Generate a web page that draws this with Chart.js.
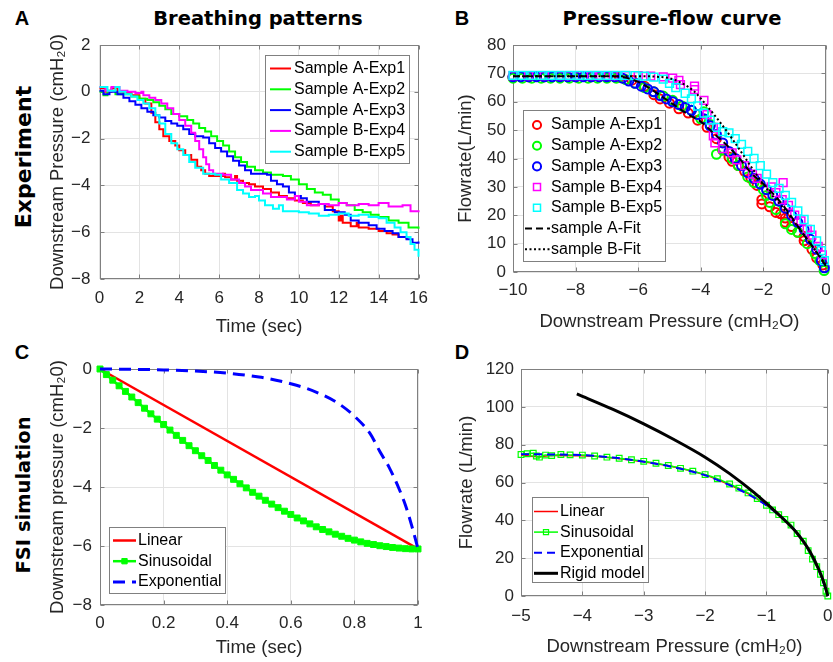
<!DOCTYPE html>
<html>
<head>
<meta charset="utf-8">
<title>Breathing patterns / pressure-flow</title>
<script src="https://cdn.jsdelivr.net/npm/chart.js@4.4.0/dist/chart.umd.min.js"></script>
<style>
  html, body { margin: 0; padding: 0; background: #fff; }
  body { position: relative; width: 833px; height: 662px; overflow: hidden; font-family: "Liberation Sans", Arial, sans-serif; }
  canvas { position: absolute; }
  .lbl { position: absolute; white-space: nowrap; color: #000; transform: translate(-50%, -50%); }
  .letter { font: bold 20px "Liberation Sans", Arial, sans-serif; }
  .ptitle { font: bold 19.5px "DejaVu Sans", sans-serif; }
  .row { font-weight: bold; font-family: "DejaVu Sans", sans-serif; transform: translate(-50%, -50%) rotate(-90deg); }
</style>
</head>
<body>
<div class="lbl letter" style="left:22px;top:18px">A</div>
<div class="lbl letter" style="left:462px;top:18px">B</div>
<div class="lbl letter" style="left:22px;top:352px">C</div>
<div class="lbl letter" style="left:462px;top:352px">D</div>
<div class="lbl ptitle" style="left:258px;top:18px">Breathing patterns</div>
<div class="lbl ptitle" style="left:672px;top:18px">Pressure-flow curve</div>
<div class="lbl row" style="left:23px;top:157px;font-size:22px">Experiment</div>
<div class="lbl row" style="left:23px;top:495px;font-size:19.5px">FSI simulation</div>

<canvas id="chartA"></canvas>
<canvas id="chartB"></canvas>
<canvas id="chartC"></canvas>
<canvas id="chartD"></canvas>

<script>
// ---- Panel A : breathing patterns (time in sec, downstream pressure) ----
const timeA1 = [0, 0.3, 0.6, 0.9, 1.2, 1.6, 2.0, 2.3, 2.6, 2.8, 3.0, 3.2, 3.5, 3.8, 4.0, 4.3, 4.6, 4.9, 5.1, 5.3, 5.5, 6.2, 6.3, 6.6, 6.8, 6.9, 7.2, 7.5, 7.8, 8.2, 8.6, 9.0, 9.4, 9.8, 10.2, 10.6, 11.0, 11.3, 11.7, 12.0, 12.1, 12.2, 12.6, 12.9, 13.0, 13.5, 14.0, 14.4, 14.7, 15.0, 15.4];
const presA1 = [0.15, 0, 0.15, 0, -0.05, -0.15, -0.3, -0.5, -0.9, -1.3, -1.6, -1.9, -2.1, -2.3, -2.5, -2.7, -2.9, -3.2, -3.35, -3.5, -3.6, -3.5, -3.65, -3.75, -3.6, -3.8, -3.9, -3.95, -4.05, -4.15, -4.3, -4.45, -4.55, -4.65, -4.75, -4.85, -4.8, -4.9, -5.1, -5.5, -5.3, -5.6, -5.75, -5.6, -5.8, -5.85, -5.95, -6.05, -6.1, -6.2, -6.3];
const timeA2 = [0, 0.2, 0.4, 0.8, 1.2, 1.6, 2.0, 2.4, 2.7, 3.0, 3.3, 3.6, 4.0, 4.4, 4.7, 5.0, 5.3, 5.6, 5.9, 6.2, 6.5, 6.8, 7.1, 7.4, 7.8, 8.2, 8.6, 9.2, 9.6, 10.0, 10.4, 10.8, 11.2, 11.6, 12.0, 12.4, 12.8, 13.2, 13.6, 14.0, 14.5, 15.0, 15.5, 16];
const presA2 = [0, -0.15, 0.05, -0.1, -0.1, -0.2, -0.3, -0.35, -0.45, -0.6, -0.75, -0.95, -1.05, -1.2, -1.35, -1.55, -1.7, -1.9, -2.1, -2.3, -2.55, -2.8, -3.0, -3.2, -3.35, -3.45, -3.55, -3.6, -3.75, -3.95, -4.15, -4.3, -4.4, -4.6, -4.75, -4.85, -5.05, -5.15, -5.25, -5.35, -5.5, -5.6, -5.8, -5.85];
const timeA3 = [0, 0.2, 0.5, 0.9, 1.2, 1.5, 1.8, 2.1, 2.4, 2.7, 3.0, 3.3, 3.6, 3.9, 4.2, 4.5, 4.8, 5.2, 5.5, 5.8, 6.1, 6.4, 6.7, 7.0, 7.3, 7.6, 8.4, 8.6, 8.9, 9.2, 9.5, 9.8, 10.1, 10.4, 11.0, 11.3, 11.8, 12.3, 12.6, 13.0, 13.5, 13.9, 14.3, 14.7, 15.0, 15.4, 15.7, 16];
const presA3 = [0.05, -0.1, 0, -0.1, -0.25, -0.4, -0.55, -0.7, -0.85, -1.0, -1.1, -1.25, -1.35, -1.45, -1.6, -1.8, -1.9, -1.95, -2.2, -2.4, -2.55, -2.75, -2.95, -3.15, -3.35, -3.5, -3.55, -3.8, -3.95, -4.05, -4.3, -4.45, -4.55, -4.7, -4.8, -5.05, -5.15, -5.25, -5.5, -5.6, -5.7, -5.85, -5.95, -6.05, -6.2, -6.3, -6.45, -6.4];
const timeA4 = [0, 0.3, 0.6, 1.0, 1.4, 1.8, 2.1, 2.2, 2.5, 2.8, 3.1, 3.4, 3.7, 4.0, 4.3, 4.6, 4.8, 5.0, 5.2, 5.35, 5.5, 5.7, 6.2, 6.6, 7.0, 7.3, 7.6, 8.2, 8.6, 9.4, 9.8, 10.0, 10.4, 11.0, 11.5, 12.0, 12.4, 13.0, 13.5, 14.0, 14.5, 15.2, 15.6, 16];
const presA4 = [0.2, 0.05, 0.2, 0.05, 0, -0.05, 0, -0.15, -0.25, -0.35, -0.5, -0.7, -0.95, -1.2, -1.45, -1.75, -2.1, -2.45, -2.8, -3.1, -3.35, -3.5, -3.55, -3.75, -3.9, -4.05, -4.2, -4.35, -4.5, -4.6, -4.45, -4.7, -4.85, -4.8, -4.85, -4.75, -4.85, -4.8, -4.85, -4.75, -4.9, -4.85, -5.1, -5.15];
const timeA5 = [0, 0.4, 0.8, 1.0, 1.3, 1.6, 1.9, 2.2, 2.5, 2.8, 3.0, 3.3, 3.6, 3.9, 4.2, 4.5, 4.8, 5.2, 5.8, 6.1, 6.5, 6.9, 7.2, 7.5, 7.8, 8.0, 8.3, 8.7, 9.0, 9.2, 10.0, 10.5, 11.0, 11.5, 12.0, 12.5, 13.0, 13.5, 14.0, 14.4, 14.8, 15.1, 15.4, 15.6, 15.8, 16];
const presA5 = [0.2, 0.05, 0.2, 0, -0.1, -0.2, -0.35, -0.5, -0.7, -1.0, -1.35, -1.8, -2.2, -2.45, -2.7, -3.0, -3.25, -3.5, -3.55, -3.75, -3.9, -4.2, -4.35, -4.5, -4.45, -4.65, -4.85, -5.0, -4.85, -5.1, -5.15, -5.2, -5.3, -5.25, -5.2, -5.3, -5.25, -5.35, -5.4, -5.6, -5.8, -6.0, -6.2, -6.5, -6.75, -7.05];

// ---- Panel B : pressure-flow scatter + fits ----
const presB1 = [-10, -9.5, -9, -8.5, -8, -7.5, -7, -6.6, -6.2, -5.8, -5.5, -5.3, -5.0, -4.7, -4.4, -4.1, -3.8, -3.5, -3.3, -3.1, -3.0, -2.8, -2.6, -2.4, -2.2, -2.05, -2.05, -1.8, -1.6, -1.45, -1.3, -1.3, -1.1, -0.9, -0.7, -0.7, -0.45, -0.3, -0.1];
const flowB1 = [68.8, 68.8, 68.8, 68.8, 68.8, 68.8, 68.8, 68.6, 67.6, 65.5, 62.5, 61, 59.5, 57.5, 56, 53.5, 51, 47, 43, 40.5, 39, 37.5, 35.5, 33, 30.5, 25.5, 24, 23, 21, 20.5, 19, 17.5, 16, 14, 12.5, 11, 8, 5, 2.5];
const presB2 = [-10, -9.7, -9.4, -9.1, -8.8, -8.5, -8.2, -7.9, -7.6, -7.3, -7.0, -6.7, -6.4, -6.1, -5.8, -5.5, -5.2, -4.9, -4.6, -4.3, -4.0, -3.9, -3.7, -3.5, -3.3, -3.0, -2.8, -2.5, -2.3, -2.0, -1.9, -1.8, -1.6, -1.3, -1.1, -0.9, -0.6, -0.35, -0.2, -0.06];
const flowB2 = [68.3, 68.3, 68.3, 68.3, 68.3, 68.3, 68.3, 68.3, 68.3, 68.3, 68.3, 68.3, 67.8, 66.5, 65, 63.5, 62, 60.5, 58.5, 57, 54, 56.5, 52, 41.5, 43, 40, 37.5, 33.5, 31.5, 29, 27, 24.5, 22, 17, 15, 14, 10, 6.5, 4, 0.5];
const presB3 = [-10, -9.75, -9.5, -9.25, -9, -8.75, -8.5, -8.25, -8, -7.75, -7.5, -7.25, -7, -6.75, -6.5, -6.3, -6.1, -5.9, -5.7, -5.5, -5.3, -5.1, -4.9, -4.7, -4.5, -4.3, -4.1, -3.9, -3.7, -3.5, -3.3, -3.1, -2.9, -2.7, -2.5, -2.3, -2.1, -1.9, -1.7, -1.5, -1.3, -1.1, -0.9, -0.7, -0.5, -0.3, -0.15, -0.05];
const flowB3 = [68.8, 68.8, 68.8, 68.8, 68.8, 68.8, 68.8, 68.8, 68.8, 68.8, 68.8, 68.8, 68.8, 68.8, 68.3, 67.3, 66.5, 65.5, 64.5, 63.5, 62.2, 61, 60, 59, 58, 57, 55.5, 54, 51.5, 48.5, 45.5, 42.5, 40, 37.5, 35, 33, 31, 29, 27, 25, 22.5, 20, 17.5, 15, 11.5, 8, 4, 1.5];
const presB4 = [-10, -9.5, -9, -8.5, -8.2, -7.9, -7.5, -7.2, -6.8, -6.4, -6.0, -5.6, -5.2, -4.9, -4.7, -4.65, -4.2, -4.2, -3.9, -3.8, -3.6, -3.6, -3.55, -3.3, -3.0, -2.85, -2.6, -2.35, -2.2, -1.37, -1.75, -1.6, -1.4, -1.2, -1.0, -0.8, -0.6, -0.45, -0.25, -0.12];
const flowB4 = [69.2, 69.2, 69.2, 69.2, 69.2, 69.2, 69.2, 69.2, 69.2, 69.2, 69.2, 69.0, 68.8, 68.3, 67.5, 66, 65.5, 64.3, 60.5, 55.5, 51, 48, 45.5, 43.5, 42, 39.5, 37.5, 34.5, 33, 31.5, 30, 28, 25.5, 23.5, 20, 18, 15, 13, 9, 6];
const presB5 = [-10, -9.7, -9.4, -9.1, -8.8, -8.5, -8.2, -7.9, -7.6, -7.3, -7.0, -6.7, -6.4, -6.1, -5.8, -5.5, -5.2, -5.0, -4.8, -4.5, -4.3, -4.1, -3.9, -3.7, -3.5, -3.3, -3.1, -2.9, -2.7, -2.5, -2.3, -2.1, -1.9, -1.7, -1.5, -1.3, -1.1, -0.9, -0.7, -0.5, -0.3, -0.15, -0.05];
const flowB5 = [69.3, 69.3, 69.3, 69.3, 69.3, 69.3, 69.3, 69.3, 69.3, 69.3, 69.3, 69.3, 69.3, 69.2, 69, 68.7, 68, 66.5, 65, 63, 61, 58.5, 56, 53.5, 51, 49.5, 49, 47, 45, 42.5, 40, 37.5, 34.5, 31.5, 29.5, 27, 24.5, 21.5, 18.5, 15, 11, 7.5, 4];
const presFitA = [-10, -6.8, -6.4, -6.0, -5.6, -5.2, -4.8, -4.4, -4.0, -3.6, -3.2, -2.8, -2.4, -2.0, -1.6, -1.2, -0.8, -0.4, 0];
const flowFitA = [69, 69, 68.5, 67, 64.5, 61.5, 58.5, 55.5, 53, 49, 45, 40.5, 35, 31, 26.5, 21, 14.5, 8.5, 2];
const presFitB = [-10, -5.8, -5.4, -5.0, -4.6, -4.2, -3.8, -3.4, -3.0, -2.6, -2.2, -1.8, -1.4, -1.0, -0.6, -0.2, 0];
const flowFitB = [69, 69, 68.8, 68.3, 66.5, 63.5, 58.5, 53, 47, 40.5, 34, 28, 23, 17.5, 11.5, 5.5, 2.5];

// ---- Panel C : FSI simulation inputs ----
const timeLin = [0, 1];
const presLin = [0, -6.1];
const timeSin = [0, 0.02, 0.04, 0.06, 0.08, 0.1, 0.12, 0.14, 0.16, 0.18, 0.2, 0.22, 0.24, 0.26, 0.28, 0.3, 0.32, 0.34, 0.36, 0.38, 0.4, 0.42, 0.44, 0.46, 0.48, 0.5, 0.52, 0.54, 0.56, 0.58, 0.6, 0.62, 0.64, 0.66, 0.68, 0.7, 0.72, 0.74, 0.76, 0.78, 0.8, 0.82, 0.84, 0.86, 0.88, 0.9, 0.92, 0.94, 0.96, 0.98, 1];
const presSin = [0, -0.19, -0.38, -0.57, -0.76, -0.95, -1.14, -1.33, -1.52, -1.7, -1.88, -2.07, -2.25, -2.42, -2.6, -2.77, -2.94, -3.1, -3.27, -3.43, -3.59, -3.74, -3.89, -4.03, -4.18, -4.31, -4.45, -4.58, -4.7, -4.82, -4.93, -5.05, -5.15, -5.25, -5.35, -5.44, -5.52, -5.6, -5.67, -5.74, -5.8, -5.86, -5.91, -5.95, -5.99, -6.02, -6.05, -6.07, -6.09, -6.1, -6.1];
const timeExp = [0, 0.1, 0.2, 0.3, 0.4, 0.5, 0.55, 0.6, 0.65, 0.7, 0.75, 0.8, 0.85, 0.88, 0.91, 0.94, 0.96, 0.98, 1];
const presExp = [0, -0.01, -0.03, -0.07, -0.14, -0.27, -0.37, -0.5, -0.66, -0.88, -1.17, -1.6, -2.2, -2.8, -3.35, -4.05, -4.6, -5.3, -6.1];

// ---- Panel D : simulated pressure-flow ----
const presDLin = [-5.0, -4.7, -4.5, -4.0, -3.5, -3.0, -2.5, -2.0, -1.6, -1.2, -0.9, -0.6, -0.4, -0.25, -0.12, -0.04, 0];
const flowDLin = [74.5, 73.6, 74.3, 74.2, 73.0, 71.0, 68.2, 64.0, 58.8, 52.3, 45.6, 37.2, 29.0, 20.3, 11.5, 4.2, 0];
const presDSin = [-5.0, -4.9, -4.8, -4.75, -4.7, -4.6, -4.5, -4.35, -4.2, -4.0, -3.8, -3.6, -3.4, -3.2, -3.0, -2.8, -2.6, -2.4, -2.2, -2.0, -1.8, -1.6, -1.45, -1.3, -1.15, -1.0, -0.9, -0.8, -0.7, -0.6, -0.5, -0.4, -0.32, -0.25, -0.18, -0.12, -0.07, -0.03, 0];
const flowDSin = [74.8, 75.2, 75.5, 74.0, 73.4, 74.5, 74.2, 74.8, 74.6, 74.5, 74.0, 73.4, 72.8, 72.0, 71.2, 70.2, 69.0, 67.5, 66.0, 64.2, 62.0, 59.2, 57.0, 54.5, 51.5, 48.0, 45.5, 43.0, 40.5, 37.5, 33.0, 29.0, 24.0, 19.5, 15.5, 11.5, 7.0, 2.5, 0];
const presDExp = [-5.0, -4.5, -4.0, -3.5, -3.0, -2.5, -2.0, -1.6, -1.2, -0.9, -0.6, -0.4, -0.25, -0.12, -0.04, 0];
const flowDExp = [75.0, 74.8, 74.5, 73.2, 71.0, 68.0, 63.8, 58.6, 52.0, 45.5, 37.0, 29.0, 20.5, 11.5, 4.0, 0];
const presDRig = [-4.09, -3.5, -3.0, -2.5, -2.0, -1.6, -1.2, -0.8, -0.5, -0.3, -0.14, -0.05, 0];
const flowDRig = [106.8, 98.6, 91.0, 82.6, 73.4, 64.7, 54.6, 43.0, 33.2, 24.0, 13.5, 5.8, 0];

const INK = '#262626', BOX = '#808080', GRID = '#e3e3e3';
const RED = '#ff0000', GREEN = '#00ff00', BLUE = '#0000ff', MAG = '#ff00ff', CYAN = '#00ffff';
const FONT = '"Liberation Sans", Arial, sans-serif';

Chart.defaults.font.family = FONT;
Chart.defaults.color = INK;

function fmt(v) { return String(Math.round(v * 100) / 100).replace('-', '\u2212'); }
function xy(xs, ys) { return xs.map((x, i) => ({ x: x, y: ys[i] })); }

function marker(ctx, d, x, y) {
  const r = d.pointRadius * 0.9;
  ctx.lineWidth = d.pointBorderWidth || 1;
  ctx.strokeStyle = d.pointBorderColor || d.borderColor;
  ctx.fillStyle = d.pointBackgroundColor || 'rgba(0,0,0,0)';
  ctx.beginPath();
  if (d.pointStyle === 'rect') {
    const s = r * Math.SQRT1_2;
    ctx.rect(x - s, y - s, 2 * s, 2 * s);
  } else {
    ctx.arc(x, y, r, 0, Math.PI * 2);
  }
  ctx.fill();
  ctx.stroke();
}

// box round the plot plus little inner ticks, matlab style
const axisBox = {
  id: 'axisBox',
  beforeDatasetsDraw(chart) {
    const { ctx, chartArea: a, scales } = chart;
    const L = Math.round(a.left) + 0.5, R = Math.round(a.right) - 0.5;
    const T = Math.round(a.top) + 0.5, B = Math.round(a.bottom) - 0.5;
    ctx.save();
    ctx.strokeStyle = BOX;
    ctx.lineWidth = 1;
    ctx.beginPath();
    scales.x.ticks.forEach(t => {
      const p = Math.round(scales.x.getPixelForValue(t.value)) + 0.5;
      ctx.moveTo(p, B); ctx.lineTo(p, B - 4);
      ctx.moveTo(p, T); ctx.lineTo(p, T + 4);
    });
    scales.y.ticks.forEach(t => {
      const p = Math.round(scales.y.getPixelForValue(t.value)) + 0.5;
      ctx.moveTo(L, p); ctx.lineTo(L + 4, p);
      ctx.moveTo(R, p); ctx.lineTo(R - 4, p);
    });
    ctx.stroke();
    ctx.strokeRect(L, T, R - L, B - T);
    ctx.restore();
  }
};

// legend drawn inside the axes with a framed white box (page coordinates in options)
const boxLegend = {
  id: 'boxLegend',
  afterDatasetsDraw(chart, args, o) {
    if (!o || !o.box) return;
    const ctx = chart.ctx;
    const ox = chart.canvas.offsetLeft, oy = chart.canvas.offsetTop;
    const [x0, y0, x1, y1] = o.box;
    ctx.save();
    ctx.fillStyle = '#fff';
    ctx.fillRect(x0 - ox, y0 - oy, x1 - x0, y1 - y0);
    ctx.strokeStyle = BOX;
    ctx.lineWidth = 1;
    ctx.strokeRect(x0 - ox + 0.5, y0 - oy + 0.5, x1 - x0, y1 - y0);
    ctx.font = '16px ' + FONT;
    ctx.textBaseline = 'middle';
    chart.data.datasets.forEach((d, i) => {
      const cy = o.row0 + i * o.rowH - oy;
      const l0 = o.line[0] - ox, l1 = o.line[1] - ox;
      if (d.showLine !== false) {
        ctx.strokeStyle = d.borderColor;
        ctx.lineWidth = d.borderWidth;
        ctx.setLineDash(d.borderDash || []);
        ctx.beginPath();
        ctx.moveTo(l0, cy);
        ctx.lineTo(l1, cy);
        ctx.stroke();
        ctx.setLineDash([]);
      }
      if (d.pointRadius > 0) marker(ctx, d, (o.mark || (o.line[0] + o.line[1]) / 2) - ox, cy);
      ctx.fillStyle = '#000';
      ctx.fillText(d.label, o.text - ox, cy);
    });
    ctx.restore();
  }
};

function makePanel(id, g, datasets, sx, sy, legend) {
  const cv = document.getElementById(id);
  cv.width = g.w;
  cv.height = g.h;
  cv.style.left = g.left + 'px';
  cv.style.top = g.top + 'px';
  const [ax0, ay0, ax1, ay1] = g.area;
  const yW = ax0 - g.left, xH = g.top + g.h - ay1;
  // later series on top, like matlab
  datasets.forEach((d, i) => { d.order = datasets.length - i; d.clip = false; });
  return new Chart(cv, {
    type: 'line',
    data: { datasets: datasets },
    options: {
      responsive: false,
      animation: false,
      events: [],
      layout: { padding: { left: 0, top: ay0 - g.top, right: g.left + g.w - ax1, bottom: 0 } },
      plugins: { legend: { display: false }, tooltip: { enabled: false }, boxLegend: legend },
      scales: {
        x: {
          type: 'linear', min: sx.min, max: sx.max,
          ticks: { stepSize: sx.step, callback: fmt, padding: g.xTickPad, font: { size: 17 }, color: INK, maxRotation: 0, autoSkip: false },
          grid: { color: GRID, drawTicks: false },
          border: { display: false },
          title: { display: true, text: sx.title, font: { size: 18.5 }, color: INK, padding: { top: 0, bottom: g.xTitlePad } },
          afterFit: s => { s.height = xH; s.paddingLeft = 0; s.paddingRight = 0; }
        },
        y: {
          type: 'linear', min: sy.min, max: sy.max,
          ticks: { stepSize: sy.step, callback: fmt, padding: g.yTickPad, font: { size: 17 }, color: INK, autoSkip: false },
          grid: { color: GRID, drawTicks: false },
          border: { display: false },
          title: { display: true, text: sy.title, font: { size: 18.5 }, color: INK, padding: { top: g.yTitlePad, bottom: 0 } },
          afterFit: s => { s.width = yW; s.paddingTop = 0; s.paddingBottom = 0; }
        }
      }
    },
    plugins: [axisBox, boxLegend]
  });
}

function stepLine(label, color, xs, ys) {
  return { label, data: xy(xs, ys), borderColor: color, borderWidth: 2, stepped: true, pointRadius: 0 };
}
function scatter(label, color, xs, ys, style) {
  return {
    label, data: xy(xs, ys), showLine: false, borderColor: color,
    pointStyle: style, pointRadius: style === 'rect' ? 5.5 : 4.5,
    pointBorderWidth: style === 'rect' ? 1.5 : 2, pointBorderColor: color,
    pointBackgroundColor: 'rgba(0,0,0,0)'
  };
}
function smooth(d) { d.cubicInterpolationMode = 'monotone'; return d; }

makePanel('chartA',
  { left: 40, top: 25, w: 400, h: 320, area: [99.5, 45, 418.5, 279], xTickPad: 9, yTickPad: 9, xTitlePad: 7, yTitlePad: 7 },
  [
    stepLine('Sample A-Exp1', RED, timeA1, presA1),
    stepLine('Sample A-Exp2', GREEN, timeA2, presA2),
    stepLine('Sample A-Exp3', BLUE, timeA3, presA3),
    stepLine('Sample B-Exp4', MAG, timeA4, presA4),
    stepLine('Sample B-Exp5', CYAN, timeA5, presA5)
  ],
  { min: 0, max: 16, step: 2, title: 'Time (sec)' },
  { min: -8, max: 2, step: 2, title: 'Downstream Pressure (cmH\u20820)' },
  { box: [265, 55, 409, 163], row0: 68.5, rowH: 20.8, line: [270, 291], text: 294 });

makePanel('chartB',
  { left: 440, top: 25, w: 393, h: 320, area: [513, 45, 828, 272], xTickPad: 8, yTickPad: 7, xTitlePad: 12, yTitlePad: 15 },
  [
    scatter('Sample A-Exp1', RED, presB1, flowB1, 'circle'),
    scatter('Sample A-Exp2', GREEN, presB2, flowB2, 'circle'),
    scatter('Sample A-Exp3', BLUE, presB3, flowB3, 'circle'),
    scatter('Sample B-Exp4', MAG, presB4, flowB4, 'rect'),
    scatter('Sample B-Exp5', CYAN, presB5, flowB5, 'rect'),
    smooth({ label: 'sample A-Fit', data: xy(presFitA, flowFitA), borderColor: '#000', borderWidth: 2, borderDash: [7, 4], pointRadius: 0 }),
    smooth({ label: 'sample B-Fit', data: xy(presFitB, flowFitB), borderColor: '#000', borderWidth: 2, borderDash: [2, 2.5], pointRadius: 0 })
  ],
  { min: -10, max: 0, step: 2, title: 'Downstream Pressure (cmH\u2082O)' },
  { min: 0, max: 80, step: 10, title: 'Flowrate(L/min)' },
  { box: [523, 110, 665, 261], row0: 125, rowH: 20.7, line: [525, 550], mark: 537, text: 551 });

makePanel('chartC',
  { left: 40, top: 350, w: 400, h: 325, area: [100, 369, 418, 605], xTickPad: 8, yTickPad: 8, xTitlePad: 16, yTitlePad: 7 },
  [
    { label: 'Linear', data: xy(timeLin, presLin), borderColor: RED, borderWidth: 2.5, pointRadius: 0 },
    { label: 'Sinusoidal', data: xy(timeSin, presSin), borderColor: GREEN, borderWidth: 2.5, pointStyle: 'rect', pointRadius: 4.2,
      pointBorderWidth: 1, pointBorderColor: GREEN, pointBackgroundColor: GREEN },
    smooth({ label: 'Exponential', data: xy(timeExp, presExp), borderColor: BLUE, borderWidth: 3, borderDash: [12, 7], pointRadius: 0 })
  ],
  { min: 0, max: 1, step: 0.2, title: 'Time (sec)' },
  { min: -8, max: 0, step: 2, title: 'Downstream pressure (cmH\u20820)' },
  { box: [109, 527, 225, 593], row0: 540.5, rowH: 20.7, line: [113, 136], text: 138 });

makePanel('chartD',
  { left: 440, top: 350, w: 393, h: 325, area: [521, 369, 832, 596], xTickPad: 10, yTickPad: 7, xTitlePad: 17, yTitlePad: 16 },
  [
    smooth({ label: 'Linear', data: xy(presDLin, flowDLin), borderColor: RED, borderWidth: 1.5, pointRadius: 0 }),
    smooth({ label: 'Sinusoidal', data: xy(presDSin, flowDSin), borderColor: GREEN, borderWidth: 1.5, pointStyle: 'rect', pointRadius: 4,
      pointBorderWidth: 1.2, pointBorderColor: GREEN, pointBackgroundColor: 'rgba(0,0,0,0)' }),
    smooth({ label: 'Exponential', data: xy(presDExp, flowDExp), borderColor: BLUE, borderWidth: 2, borderDash: [8, 5], pointRadius: 0 }),
    smooth({ label: 'Rigid model', data: xy(presDRig, flowDRig), borderColor: '#000', borderWidth: 3, pointRadius: 0 })
  ],
  { min: -5, max: 0, step: 1, title: 'Downstream Pressure (cmH\u20820)' },
  { min: 0, max: 120, step: 20, title: 'Flowrate (L/min)' },
  { box: [532, 497, 648, 582], row0: 511.5, rowH: 20.6, line: [534, 558], text: 560 });
</script>
</body>
</html>
